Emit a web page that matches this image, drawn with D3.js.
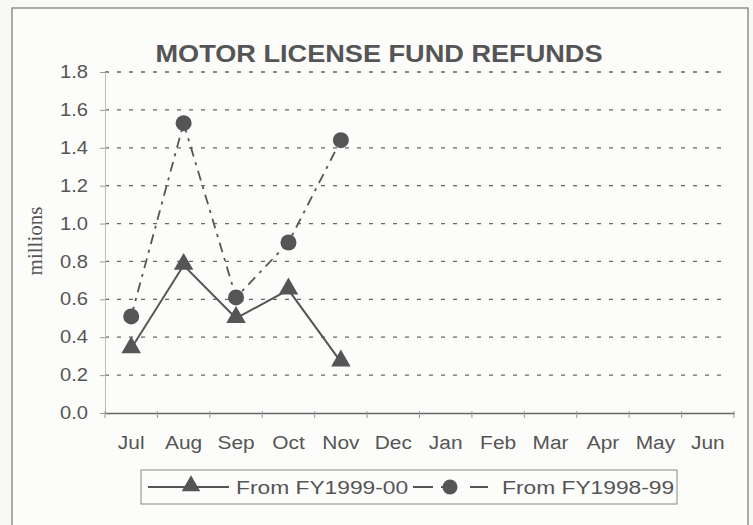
<!DOCTYPE html>
<html>
<head>
<meta charset="utf-8">
<script src="https://cdn.jsdelivr.net/npm/d3@7"></script>
<style>
  body { margin: 0; background: #f8f8f6; }
  svg text { font-family: "Liberation Sans", Arial, sans-serif; fill: #555; }
</style>
</head>
<body>
<div id="chart"></div>
<script>
// chart data
const months = ["Jul", "Aug", "Sep", "Oct", "Nov", "Dec", "Jan", "Feb", "Mar", "Apr", "May", "Jun"];
const fy9900 = [0.34, 0.78, 0.50, 0.65, 0.27];
const fy9899 = [0.51, 1.53, 0.61, 0.90, 1.44];
const yTicks = [0, 0.2, 0.4, 0.6, 0.8, 1.0, 1.2, 1.4, 1.6, 1.8];

const svgWidth = 753;
const svgHeight = 525;
const ink = "#555";
const stretch = 1.15; // the scanned text is a bit wide

const margin = { top: 72, left: 105, right: 19, bottom: 112 };
const plotW = svgWidth - margin.left - margin.right;
const plotH = svgHeight - margin.top - margin.bottom;

let svg = d3.select("#chart")
  .append("svg")
  .attr("width", svgWidth)
  .attr("height", svgHeight);

// outer frame
svg.append("rect")
  .attr("x", 12).attr("y", 8)
  .attr("width", 736).attr("height", 530)
  .attr("fill", "#fcfcfa")
  .attr("stroke", "#777")
  .attr("stroke-width", 1.2);

let g = svg.append("g")
  .attr("transform", `translate(${margin.left}, ${margin.top})`);

const x = d3.scaleBand().domain(months).range([0, plotW]);
const y = d3.scaleLinear().domain([0, 1.8]).range([plotH, 0]);

// dashed gridlines
g.selectAll(".grid")
  .data(yTicks.filter(t => t > 0))
  .enter()
  .append("line")
  .attr("x1", 0)
  .attr("x2", plotW - 9)
  .attr("y1", d => y(d))
  .attr("y2", d => y(d))
  .attr("stroke", "#666")
  .attr("stroke-width", 1.3)
  .attr("stroke-dasharray", "4,8");

// y axis
let yAxis = g.append("g")
  .call(d3.axisLeft(y).tickValues(yTicks).tickFormat(d3.format(".1f")).tickSize(5).tickPadding(12));
yAxis.select(".domain").attr("stroke", "#bbb");
yAxis.selectAll(".tick line").attr("stroke", "#999");
yAxis.selectAll("text")
  .style("font-size", "17.5px")
  .attr("fill", ink)
  .attr("x", -17 / stretch)
  .attr("transform", `scale(${stretch},1)`);

// x axis
let xAxis = g.append("g")
  .attr("transform", `translate(0, ${plotH})`)
  .call(d3.axisBottom(x).tickSize(0).tickPadding(23));
xAxis.select(".domain").attr("stroke", "#666").attr("stroke-width", 1.3);
xAxis.selectAll("text")
  .style("font-size", "19px")
  .attr("fill", ink)
  .attr("transform", "scale(1.1,1)");

// category boundary ticks
g.selectAll(".xtick")
  .data(months.concat([""]))
  .enter()
  .append("line")
  .attr("x1", (d, i) => i * x.step())
  .attr("x2", (d, i) => i * x.step())
  .attr("y1", plotH - 2)
  .attr("y2", plotH + 5)
  .attr("stroke", "#999");

// y label
svg.append("text")
  .attr("transform", "translate(42, 241) rotate(-90)")
  .attr("text-anchor", "middle")
  .style("font-family", "'Liberation Serif', 'Times New Roman', serif")
  .style("font-size", "21px")
  .text("millions");

// title
svg.append("text")
  .attr("transform", "translate(379, 62) scale(1.18,1)")
  .attr("text-anchor", "middle")
  .style("font-size", "23px")
  .style("font-weight", "bold")
  .text("MOTOR LICENSE FUND REFUNDS");

const cx = (d, i) => x(months[i]) + x.bandwidth() / 2;
const line = d3.line().x(cx).y(d => y(d));

// FY1998-99 dash-dot with circles
g.append("path")
  .attr("d", line(fy9899))
  .attr("fill", "none")
  .attr("stroke", ink)
  .attr("stroke-width", 1.8)
  .attr("stroke-dasharray", "10,6,3,6");

g.selectAll(".circ")
  .data(fy9899)
  .enter()
  .append("circle")
  .attr("cx", cx)
  .attr("cy", d => y(d))
  .attr("r", 8)
  .attr("fill", ink);

// FY1999-00 solid with triangles
g.append("path")
  .attr("d", line(fy9900))
  .attr("fill", "none")
  .attr("stroke", ink)
  .attr("stroke-width", 2);

const tri = d3.symbol().type(d3.symbolTriangle).size(165);
g.selectAll(".tri")
  .data(fy9900)
  .enter()
  .append("path")
  .attr("d", tri)
  .attr("transform", (d, i) => `translate(${cx(d, i)}, ${y(d) - 1})`)
  .attr("fill", ink);

// legend
let legend = svg.append("g");
legend.append("rect")
  .attr("x", 141).attr("y", 470)
  .attr("width", 536).attr("height", 34)
  .attr("fill", "none")
  .attr("stroke", "#888")
  .attr("stroke-width", 1);

legend.append("line")
  .attr("x1", 148).attr("x2", 229)
  .attr("y1", 487).attr("y2", 487)
  .attr("stroke", ink).attr("stroke-width", 2);
legend.append("path")
  .attr("d", d3.symbol().type(d3.symbolTriangle).size(150))
  .attr("transform", "translate(191, 486)")
  .attr("fill", ink);
legend.append("text")
  .attr("transform", "translate(236, 494) scale(1.2,1)")
  .style("font-size", "19px")
  .text("From FY1999-00");

legend.append("line")
  .attr("x1", 413).attr("x2", 488)
  .attr("y1", 487).attr("y2", 487)
  .attr("stroke", ink).attr("stroke-width", 2)
  .attr("stroke-dasharray", "20,8,16,13,18,100");
legend.append("circle")
  .attr("cx", 450).attr("cy", 487).attr("r", 7.5)
  .attr("fill", ink);
legend.append("text")
  .attr("transform", "translate(502, 494) scale(1.2,1)")
  .style("font-size", "19px")
  .text("From FY1998-99");
</script>
</body>
</html>
